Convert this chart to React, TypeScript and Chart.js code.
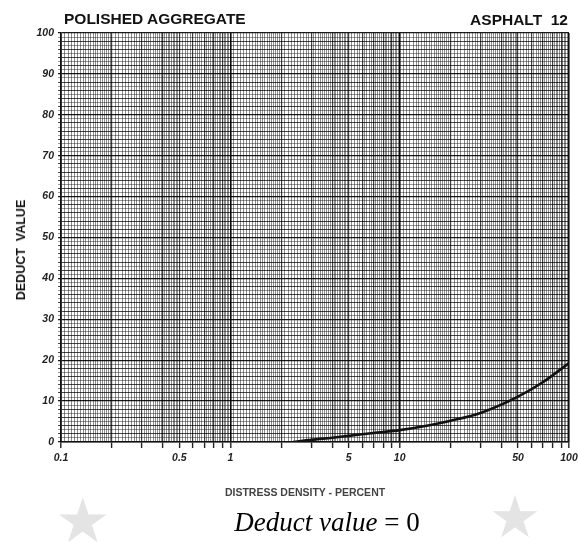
import React, { useEffect, useRef } from "react";
import { Chart, registerables } from "chart.js";

Chart.register(...registerables);

// ---- data ----
const curveX = [2.35, 3, 4, 5, 7, 10, 15, 20, 30, 50, 70, 100];
const curveY = [0, 0.55, 1.05, 1.5, 2.2, 2.9, 4.1, 5.2, 7.1, 11.1, 14.6, 19.3];
const xTickLabels = [0.1, 0.5, 1, 5, 10, 50, 100];
const yTickLabels = [0, 10, 20, 30, 40, 50, 60, 70, 80, 90, 100];
const decades = [0.1, 1, 10];
// log-paper subdivisions within one decade: [from, to, step]
const decadeSubdivisions = [
  [1, 2, 0.05],
  [2, 5, 0.1],
  [5, 10, 0.2],
];

const titleLeft = "POLISHED AGGREGATE";
const titleRight = "ASPHALT  12";
const xTitle = "DISTRESS DENSITY - PERCENT";
const yTitle = "DEDUCT  VALUE";

const r6 = (v: number) => Math.round(v * 1e6) / 1e6;

function buildXGrid(): number[] {
  const out: number[] = [];
  for (const d of decades) {
    for (const [a, b, s] of decadeSubdivisions) {
      const n = Math.round((b - a) / s);
      for (let i = 0; i < n; i++) out.push(r6((a + i * s) * d));
    }
  }
  out.push(100);
  return Array.from(new Set(out)).sort((p, q) => p - q);
}

function buildYGrid(): number[] {
  const out: number[] = [];
  for (let v = 0; v <= 100; v++) out.push(v);
  return out;
}

function decadeOf(v: number) {
  return Math.pow(10, Math.floor(Math.log10(v) + 1e-9));
}

const tickFont = { family: "Liberation Sans", weight: "bold" as const, style: "italic" as const, size: 10.5 };

export default function App() {
  const ref = useRef<HTMLCanvasElement | null>(null);

  useEffect(() => {
    if (!ref.current) return;
    const xGrid = buildXGrid();
    const yGrid = buildYGrid();
    const chart = new Chart(ref.current, {
      type: "line",
      data: {
        datasets: [
          {
            data: curveX.map((x, i) => ({ x, y: curveY[i] })),
            borderColor: "#111",
            borderWidth: 2.6,
            pointRadius: 0,
            cubicInterpolationMode: "monotone",
            fill: false,
          },
        ],
      },
      options: {
        animation: false,
        responsive: false,
        devicePixelRatio: 1,
        layout: { padding: { left: 0, top: 33, right: 9, bottom: 70 } },
        plugins: { legend: { display: false }, tooltip: { enabled: false } },
        scales: {
          x: {
            type: "logarithmic",
            min: 0.1,
            max: 100,
            afterBuildTicks: (scale: any) => {
              scale.ticks = xGrid.map((v) => ({ value: v }));
            },
            afterFit: (scale: any) => {
              scale.height = 30;
              scale.paddingLeft = 0;
              scale.paddingRight = 0;
            },
            ticks: {
              autoSkip: false,
              maxRotation: 0,
              minRotation: 0,
              padding: 4,
              color: "#222",
              font: tickFont,
              callback: (value: any) => {
                const v = r6(Number(value));
                return xTickLabels.includes(v) ? String(v) : "";
              },
            },
            grid: {
              drawTicks: true,
              tickLength: 6,
              color: (ctx: any) => {
                const v = ctx.tick ? ctx.tick.value : 0;
                const m = r6(v / decadeOf(v));
                if (m === 1) return "rgba(0,0,0,0.95)";
                if (Number.isInteger(m)) return "rgba(0,0,0,0.75)";
                return "rgba(0,0,0,0.45)";
              },
              lineWidth: (ctx: any) => {
                const v = ctx.tick ? ctx.tick.value : 0;
                const m = r6(v / decadeOf(v));
                if (m === 1) return 1.6;
                if (Number.isInteger(m)) return 1.2;
                return 1;
              },
              tickColor: (ctx: any) => {
                const v = ctx.tick ? ctx.tick.value : 0;
                const m = r6(v / decadeOf(v));
                return Number.isInteger(m) ? "#222" : "rgba(0,0,0,0)";
              },
              tickWidth: 1.4,
            },
            border: { color: "#111", width: 1.6 },
          },
          y: {
            type: "linear",
            min: 0,
            max: 100,
            afterBuildTicks: (scale: any) => {
              scale.ticks = yGrid.map((v) => ({ value: v }));
            },
            afterFit: (scale: any) => {
              scale.width = 61;
              scale.paddingTop = 0;
              scale.paddingBottom = 0;
            },
            ticks: {
              autoSkip: false,
              padding: 4,
              color: "#222",
              font: tickFont,
              callback: (value: any) => {
                const v = Math.round(Number(value));
                return yTickLabels.includes(v) ? String(v) : "";
              },
            },
            grid: {
              drawTicks: true,
              tickLength: 3,
              color: (ctx: any) => {
                const v = ctx.tick ? ctx.tick.value : 0;
                if (v % 10 === 0) return "rgba(0,0,0,0.9)";
                if (v % 2 === 0) return "rgba(0,0,0,0.72)";
                return "rgba(0,0,0,0.4)";
              },
              lineWidth: (ctx: any) => {
                const v = ctx.tick ? ctx.tick.value : 0;
                return v % 10 === 0 ? 1.3 : 1;
              },
            },
            border: { color: "#111", width: 1.6 },
          },
        },
      } as any,
    });
    return () => chart.destroy();
  }, []);

  const sans = "'Liberation Sans', Arial, sans-serif";

  return (
    <div style={{ position: "absolute", left: 0, top: 0, width: 578, height: 542, background: "#fff", overflow: "hidden" }}>
      <div style={{ position: "absolute", left: 55, top: 490, fontSize: 62, color: "#e4e4e4", lineHeight: "62px" }}>★</div>
      <div style={{ position: "absolute", left: 489, top: 489, fontSize: 58, color: "#e4e4e4", lineHeight: "58px" }}>★</div>
      <canvas ref={ref} width={578} height={542} style={{ position: "absolute", left: 0, top: 0, width: 578, height: 542 }} />
      <div style={{ position: "absolute", left: 64, top: 10, fontFamily: sans, fontWeight: "bold", fontSize: 15.5, lineHeight: "18px", color: "#111", whiteSpace: "pre" }}>
        {titleLeft}
      </div>
      <div style={{ position: "absolute", right: 10, top: 11, fontFamily: sans, fontWeight: "bold", fontSize: 15.5, lineHeight: "18px", color: "#111", whiteSpace: "pre" }}>
        {titleRight}
      </div>
      <div
        style={{
          position: "absolute",
          left: 21,
          top: 250,
          transform: "translate(-50%, -50%) rotate(-90deg)",
          fontFamily: sans,
          fontWeight: "bold",
          fontSize: 12.5,
          color: "#111",
          whiteSpace: "pre",
        }}
      >
        {yTitle}
      </div>
      <div
        style={{
          position: "absolute",
          left: 305,
          top: 492,
          transform: "translate(-50%, -50%)",
          fontFamily: sans,
          fontWeight: "bold",
          fontSize: 10.5,
          color: "#444",
          whiteSpace: "pre",
        }}
      >
        {xTitle}
      </div>
      <div
        style={{
          position: "absolute",
          left: 327,
          top: 522,
          transform: "translate(-50%, -50%)",
          fontFamily: "'Liberation Serif', 'Times New Roman', serif",
          fontSize: 27,
          color: "#000",
          whiteSpace: "pre",
        }}
      >
        <i>Deduct value</i> = 0
      </div>
    </div>
  );
}
